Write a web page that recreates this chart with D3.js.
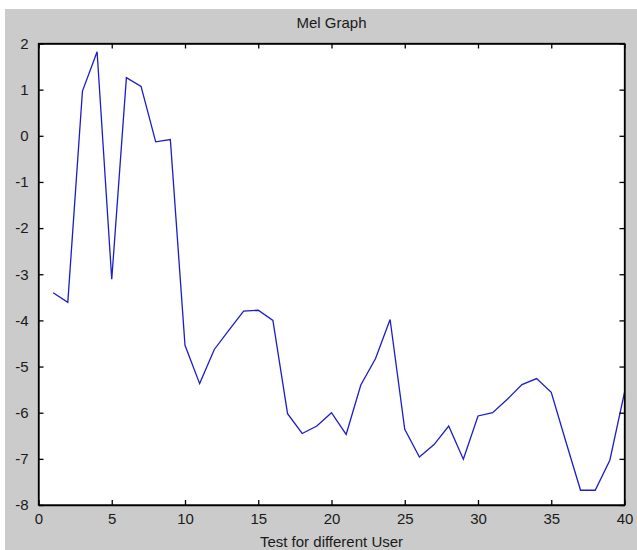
<!DOCTYPE html>
<html>
<head>
<meta charset="utf-8">
<script src="https://cdn.jsdelivr.net/npm/d3@7"></script>
<style>
    body { margin: 0; background: #ffffff; }
    text { font-family: Arial, "Liberation Sans", sans-serif; fill: #1a1a1a; }
    .tick text { font-size: 15px; fill: #1a1a1a; }
    .title, .xlabel { font-size: 15px; }
</style>
</head>
<body>
<div id="chart"></div>
<script>
var width = 637;
var height = 550;

var margin = {left: 38.5, top: 43.5, right: 12.5, bottom: 45};

var COLOR_BG = '#cbcbcb';
var COLOR_LINE = '#1c1cc8';
var TICK_LEN = 5;

// data
var users = d3.range(1, 41);
var melValues = [
    -3.40, -3.61, 0.97, 1.82, -3.11, 1.26, 1.07, -0.13, -0.08, -4.54,
    -5.37, -4.63, -4.21, -3.80, -3.78, -4.00, -6.02, -6.45, -6.29, -6.00,
    -6.47, -5.40, -4.83, -3.98, -6.36, -6.96, -6.69, -6.29, -7.01, -6.07,
    -6.00, -5.71, -5.39, -5.26, -5.56, -6.63, -7.68, -7.68, -7.03, -5.56
];
var xTicks = [0, 5, 10, 15, 20, 25, 30, 35, 40];
var yTicks = [2, 1, 0, -1, -2, -3, -4, -5, -6, -7, -8];

var svg = d3.select('#chart')
    .append('svg')
    .attr('width', width)
    .attr('height', height)

// figure background (white strip on top/left as in the screenshot)
svg.append('rect')
    .attr('x', 5)
    .attr('y', 9)
    .attr('width', width - 5)
    .attr('height', height - 9)
    .attr('fill', COLOR_BG)

var x = d3.scaleLinear()
    .domain([0, 40])
    .range([margin.left, width - margin.right])

var y = d3.scaleLinear()
    .domain([-8, 2])
    .range([height - margin.bottom, margin.top])

// hyphen minus like matlab, not the unicode one
var plainFormat = function (d) { return String(d); }

// axes area
svg.append('rect')
    .attr('x', x(0))
    .attr('y', y(2))
    .attr('width', x(40) - x(0))
    .attr('height', y(-8) - y(2))
    .attr('fill', '#fff')

// data line
svg.append('path')
    .datum(melValues)
    .attr('fill', 'none')
    .attr('stroke', COLOR_LINE)
    .attr('stroke-width', 1.3)
    .attr('stroke-linejoin', 'miter')
    .attr('d', d3.line()
        .x(function (d, i) { return x(users[i]); })
        .y(function (d) { return y(d); })
    )

// bottom + left axes with labels, ticks pointing inward
svg.append('g')
    .attr('transform', 'translate(0,' + y(-8) + ')')
    .call(d3.axisBottom(x).tickValues(xTicks).tickSizeInner(-TICK_LEN).tickSizeOuter(0).tickPadding(8).tickFormat(plainFormat))

svg.append('g')
    .attr('transform', 'translate(' + x(0) + ',0)')
    .call(d3.axisLeft(y).tickValues(yTicks).tickSizeInner(-TICK_LEN).tickSizeOuter(0).tickPadding(10).tickFormat(plainFormat))

// top + right ticks, no labels
svg.append('g')
    .attr('transform', 'translate(0,' + y(2) + ')')
    .call(d3.axisTop(x).tickValues(xTicks).tickSizeInner(-TICK_LEN).tickSizeOuter(0).tickFormat(''))

svg.append('g')
    .attr('transform', 'translate(' + x(40) + ',0)')
    .call(d3.axisRight(y).tickValues(yTicks).tickSizeInner(-TICK_LEN).tickSizeOuter(0).tickFormat(''))

svg.selectAll('.domain').attr('stroke', '#000').attr('stroke-width', 1.3)
svg.selectAll('.tick line').attr('stroke', '#000').attr('stroke-width', 1.3)

// box outline
svg.append('rect')
    .attr('x', x(0))
    .attr('y', y(2))
    .attr('width', x(40) - x(0))
    .attr('height', y(-8) - y(2))
    .attr('fill', 'none')
    .attr('stroke', '#000')
    .attr('stroke-width', 1.3)

svg.append('text')
    .attr('class', 'title')
    .attr('x', (x(0) + x(40)) / 2)
    .attr('y', 28)
    .attr('text-anchor', 'middle')
    .text('Mel Graph')

svg.append('text')
    .attr('class', 'xlabel')
    .attr('x', (x(0) + x(40)) / 2)
    .attr('y', 547)
    .attr('text-anchor', 'middle')
    .text('Test for different User')
</script>
</body>
</html>
